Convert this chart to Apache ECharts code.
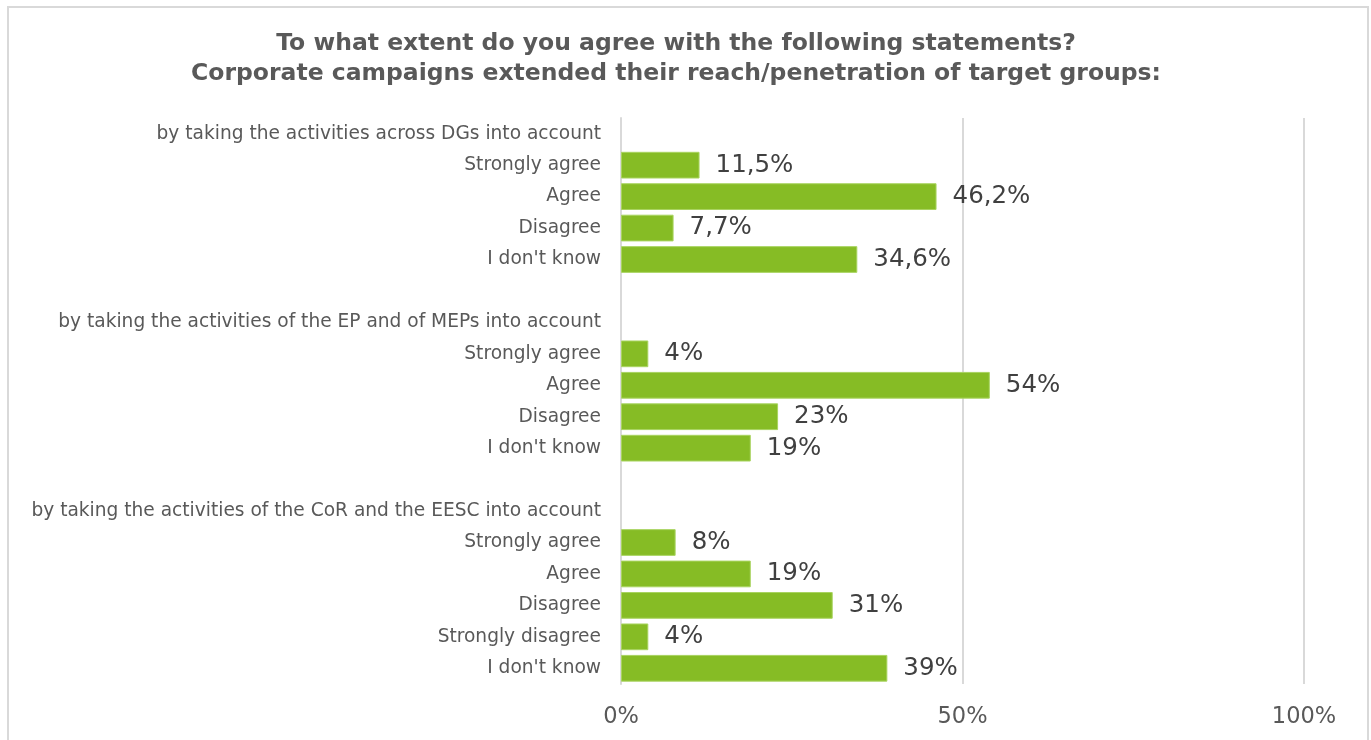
<!DOCTYPE html>
<html><head><meta charset="utf-8">
<script src="https://cdn.jsdelivr.net/npm/echarts@6/dist/echarts.min.js"></script>
<style>html,body{margin:0;padding:0;background:#fff}#c{width:1371px;height:740px}</style>
</head><body><div id="c"></div>
<script>
const titleLines = ["To what extent do you agree with the following statements?", "Corporate campaigns extended their reach/penetration of target groups:"];
const categories = [
  "by taking the activities across DGs into account",
  "Strongly agree", "Agree", "Disagree", "I don't know",
  "",
  "by taking the activities of the EP and of MEPs into account",
  "Strongly agree", "Agree", "Disagree", "I don't know",
  " ",
  "by taking the activities of the CoR and the EESC into account",
  "Strongly agree", "Agree", "Disagree", "Strongly disagree", "I don't know"
];
const values = [null, 11.5, 46.2, 7.7, 34.6, null, null, 4, 54, 23, 19, null, null, 8, 19, 31, 4, 39];
const xTicks = [0, 50, 100];
const FF = '"DejaVu Sans", Verdana, sans-serif';

const chart = echarts.init(document.getElementById('c'));
chart.setOption({
  animation: false,
  graphic: [{type:'rect', shape:{x:8, y:7, width:1360, height:745}, style:{fill:'none', stroke:'#d9d9d9', lineWidth:2}, z:-1}],
  title: {
    text: titleLines.join('\n'),
    left: 671, top: 24, textAlign: 'center',
    textStyle: {fontFamily:FF, fontWeight:'bold', fontSize:23.5, color:'#595959', lineHeight:30}
  },
  grid: {left: 621, right: 67, top: 118, bottom: 56, containLabel: false},
  xAxis: {
    type: 'value', min: 0, max: 100, interval: 50,
    axisLine: {show:false}, axisTick: {show:false},
    splitLine: {show:true, lineStyle:{color:'#d9d9d9', width:2}},
    axisLabel: {formatter: v => xTicks.includes(v) ? v + '%' : '', fontFamily:FF, fontSize:22.5, color:'#595959', margin:22}
  },
  yAxis: {
    type: 'category', inverse: true, data: categories,
    axisLine: {show:true, lineStyle:{color:'#d9d9d9', width:2}}, axisTick: {show:false},
    axisLabel: {fontFamily:FF, fontSize:18.6, color:'#595959', margin:20, interval:0}
  },
  series: [{
    type: 'bar', data: values.map(v => v === null ? '-' : v),
    barCategoryGap: '15%',
    itemStyle: {color:'#86bc25', borderColor:'#a9d460', borderWidth:1},
    label: {show:true, position:'right', distance:16, fontFamily:FF, fontSize:24.5, color:'#404040',
      formatter: p => String(p.value).replace('.', ',') + '%'}
  }]
});
</script></body></html>
